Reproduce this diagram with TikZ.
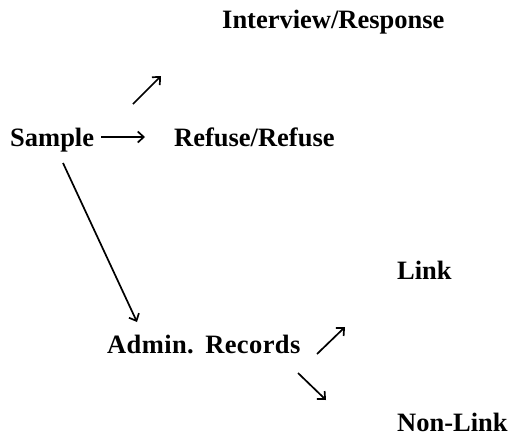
\documentclass[tikz,border=0pt]{standalone}
\usepackage{fontspec}
\setmainfont{Liberation Serif}
\usetikzlibrary{arrows.meta, positioning}

\begin{document}
\begin{tikzpicture}[x=1pt, y=-1pt,
        label/.style = {inner sep=0pt, anchor=base west, font=\bfseries\fontsize{26.5}{30}\selectfont},
        arr/.style   = {line width=1.7pt, -{Straight Barb[length=6pt, width=11pt]}}]

    \useasboundingbox (0,0) rectangle (514,437);

    % the texts
    \node[label] (interview) at (222,28)  {Interview/Response};
    \node[label] (sample)    at (10,146)  {Sample};
    \node[label] (refuse)    at (174,146) {Refuse/Refuse};
    \node[label] (admin)     at (107,353) {\addfontfeature{LetterSpace=1.5}Admin.~\,Records};
    \node[label] (link)      at (397,279) {Link};
    \node[label] (nonlink)   at (397,431) {Non-Link};

    % arrows from the sample
    \draw[arr] ([shift={(7,-9)}]sample.base east) -- ([shift={(-29,-9)}]refuse.base west);
    \draw[arr] ([shift={(-41,-42)}]refuse.base west) -- ([shift={(-61,48)}]interview.base west);
    \draw[arr] ([shift={(53,17)}]sample.base west) -- ([shift={(30,-31)}]admin.base west);

    % arrows from the records
    \draw[arr] ([shift={(210,1)}]admin.base west) -- ([shift={(-52,48)}]link.base west);
    \draw[arr] ([shift={(191,20)}]admin.base west) -- ([shift={(-71,-31)}]nonlink.base west);

\end{tikzpicture}
\end{document}
